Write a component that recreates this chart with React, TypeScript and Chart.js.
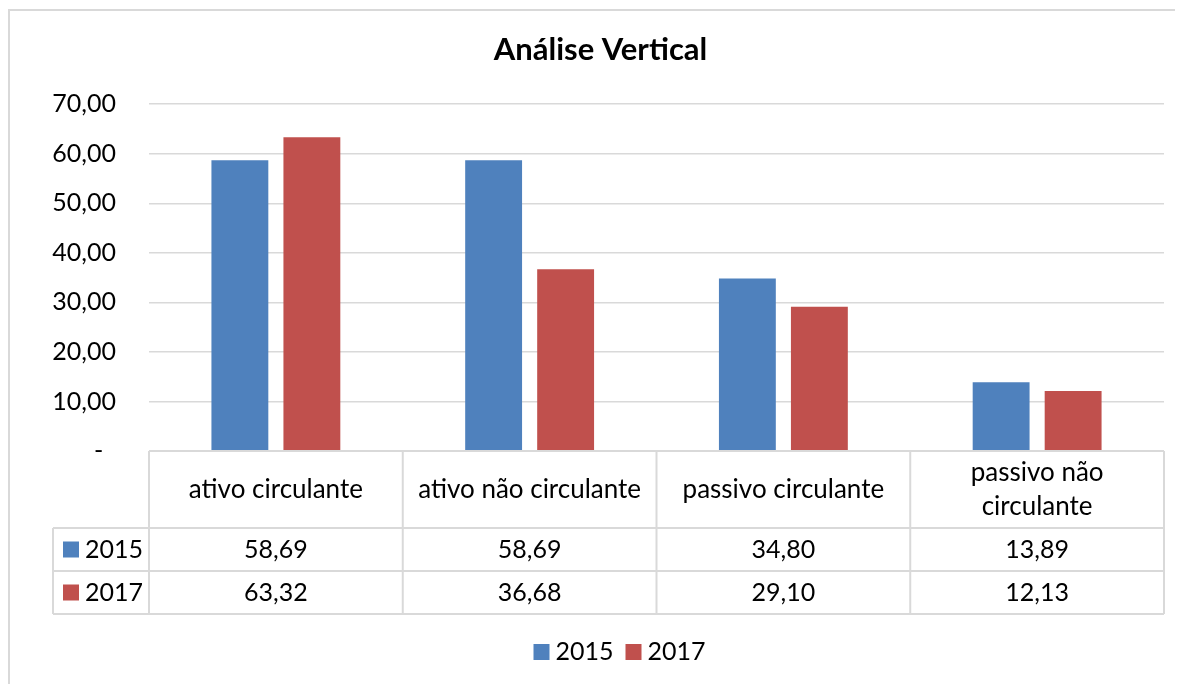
import React, { useEffect, useRef } from "react";
import { Chart, registerables } from "chart.js";

Chart.register(...registerables);

const TITLE = "Análise Vertical";
const CATEGORIES = ["ativo circulante", "ativo não circulante", "passivo circulante", "passivo não circulante"];
const SERIES_LABELS = ["2015", "2017"];
const SERIES_2015 = [58.69, 58.69, 34.8, 13.89];
const SERIES_2017 = [63.32, 36.68, 29.1, 12.13];
const SERIES_COLORS = ["#4F81BD", "#C0504D"];
const Y_MIN = 0;
const Y_MAX = 70;
const Y_STEP = 10;

const FONT = "Lato, 'Open Sans', sans-serif";
const FS = 26;
const GRID = "#d9d9d9";

const fmt = (v: number) => v.toFixed(2).replace(".", ",");

function wrap(ctx: CanvasRenderingContext2D, text: string, maxW: number): string[] {
  const words = text.split(" ");
  const lines: string[] = [];
  let cur = "";
  for (const w of words) {
    const t = cur ? cur + " " + w : w;
    if (ctx.measureText(t).width > maxW && cur) {
      lines.push(cur);
      cur = w;
    } else cur = t;
  }
  if (cur) lines.push(cur);
  return lines;
}

const framePlugin = {
  id: "frame",
  beforeDraw(chart: any) {
    const { ctx, width, height } = chart;
    ctx.save();
    ctx.fillStyle = "#fff";
    ctx.fillRect(0, 0, width, height);
    ctx.strokeStyle = GRID;
    ctx.lineWidth = 2;
    ctx.beginPath();
    ctx.moveTo(1, height);
    ctx.lineTo(1, 2);
    ctx.lineTo(width, 2);
    ctx.stroke();
    ctx.restore();
  },
};

const tablePlugin = {
  id: "dataTable",
  afterDraw(chart: any) {
    const { ctx } = chart;
    const xs = chart.scales.x;
    const n = CATEGORIES.length;
    const cw = (xs.right - xs.left) / n;
    const y0 = chart.chartArea.bottom;
    const hH = 77;
    const rH = 43;
    const legendColW = 96;
    const tl = xs.left - legendColW;
    const datasets = chart.data.datasets;
    ctx.save();
    ctx.strokeStyle = GRID;
    ctx.lineWidth = 2;
    ctx.beginPath();
    ctx.moveTo(xs.left, y0);
    ctx.lineTo(xs.right, y0);
    for (let r = 0; r <= datasets.length; r++) {
      const y = y0 + hH + r * rH;
      ctx.moveTo(tl, y);
      ctx.lineTo(xs.right, y);
    }
    const yb = y0 + hH + datasets.length * rH;
    for (let i = 0; i <= n; i++) {
      const x = xs.left + i * cw;
      ctx.moveTo(x, y0);
      ctx.lineTo(x, yb);
    }
    ctx.moveTo(tl, y0 + hH);
    ctx.lineTo(tl, yb);
    ctx.stroke();

    ctx.fillStyle = "#000";
    ctx.font = `${FS}px ${FONT}`;
    ctx.textAlign = "center";
    ctx.textBaseline = "middle";
    const labels = chart.data.labels as string[];
    labels.forEach((lab, i) => {
      const cx = xs.left + (i + 0.5) * cw;
      const lines = wrap(ctx, lab, cw - 22);
      const lh = 34;
      const cy = y0 + hH / 2;
      lines.forEach((ln, k) => {
        ctx.fillText(ln, cx, cy + (k - (lines.length - 1) / 2) * lh);
      });
    });
    ctx.font = `25px ${FONT}`;
    datasets.forEach((ds: any, r: number) => {
      const cy = y0 + hH + r * rH + rH / 2;
      ds.data.forEach((v: number, i: number) => {
        const cx = xs.left + (i + 0.5) * cw;
        ctx.textAlign = "center";
        ctx.fillText(fmt(v), cx, cy);
      });
      ctx.fillStyle = ds.backgroundColor;
      ctx.fillRect(tl + 10, cy - 8, 16, 16);
      ctx.fillStyle = "#000";
      ctx.textAlign = "left";
      ctx.fillText(ds.label, tl + 32, cy);
    });

    const ly = yb + 38;
    const items = datasets.map((ds: any) => ({ label: ds.label, color: ds.backgroundColor, w: ctx.measureText(ds.label).width }));
    const gap = 12;
    const total = items.reduce((s: number, it: any) => s + 16 + 6 + it.w, 0) + gap * (items.length - 1);
    let x = (tl + xs.right) / 2 + 11 - total / 2;
    items.forEach((it: any) => {
      ctx.fillStyle = it.color;
      ctx.fillRect(x, ly - 8, 16, 16);
      x += 22;
      ctx.fillStyle = "#000";
      ctx.textAlign = "left";
      ctx.fillText(it.label, x, ly);
      x += it.w + gap;
    });
    ctx.restore();
  },
};

export default function App() {
  const ref = useRef<HTMLCanvasElement>(null);
  useEffect(() => {
    if (!ref.current) return;
    const chart = new Chart(ref.current, {
      type: "bar",
      data: {
        labels: CATEGORIES,
        datasets: [
          { label: SERIES_LABELS[0], data: SERIES_2015, backgroundColor: SERIES_COLORS[0], categoryPercentage: 0.5675, barPercentage: 0.79 },
          { label: SERIES_LABELS[1], data: SERIES_2017, backgroundColor: SERIES_COLORS[1], categoryPercentage: 0.5675, barPercentage: 0.79 },
        ],
      },
      options: {
        responsive: false,
        animation: false,
        devicePixelRatio: 1,
        layout: { padding: { left: 29, right: 11, top: 0, bottom: 0 } },
        plugins: {
          legend: { display: false },
          tooltip: { enabled: false },
          title: {
            display: true,
            text: TITLE,
            color: "#000",
            font: { family: FONT, size: 31, weight: "bold" },
            padding: { top: 23, bottom: 36 },
          },
        },
        scales: {
          x: {
            grid: { display: false },
            border: { display: false },
            ticks: { display: false },
            afterFit: (s: any) => {
              s.height = 233;
            },
          },
          y: {
            min: Y_MIN,
            max: Y_MAX,
            ticks: {
              stepSize: Y_STEP,
              color: "#000",
              font: { family: FONT, size: 25 },
              padding: 33,
              callback: (v: any) => (Number(v) === 0 ? "-  " : fmt(Number(v))),
            },
            grid: { color: GRID, lineWidth: 1.5, drawTicks: false },
            border: { display: false },
            afterFit: (s: any) => {
              s.width = 112;
            },
          },
        },
      },
      plugins: [framePlugin, tablePlugin],
    });
    return () => chart.destroy();
  }, []);
  return <canvas ref={ref} width={1167} height={676} style={{ display: "block" }} />;
}
